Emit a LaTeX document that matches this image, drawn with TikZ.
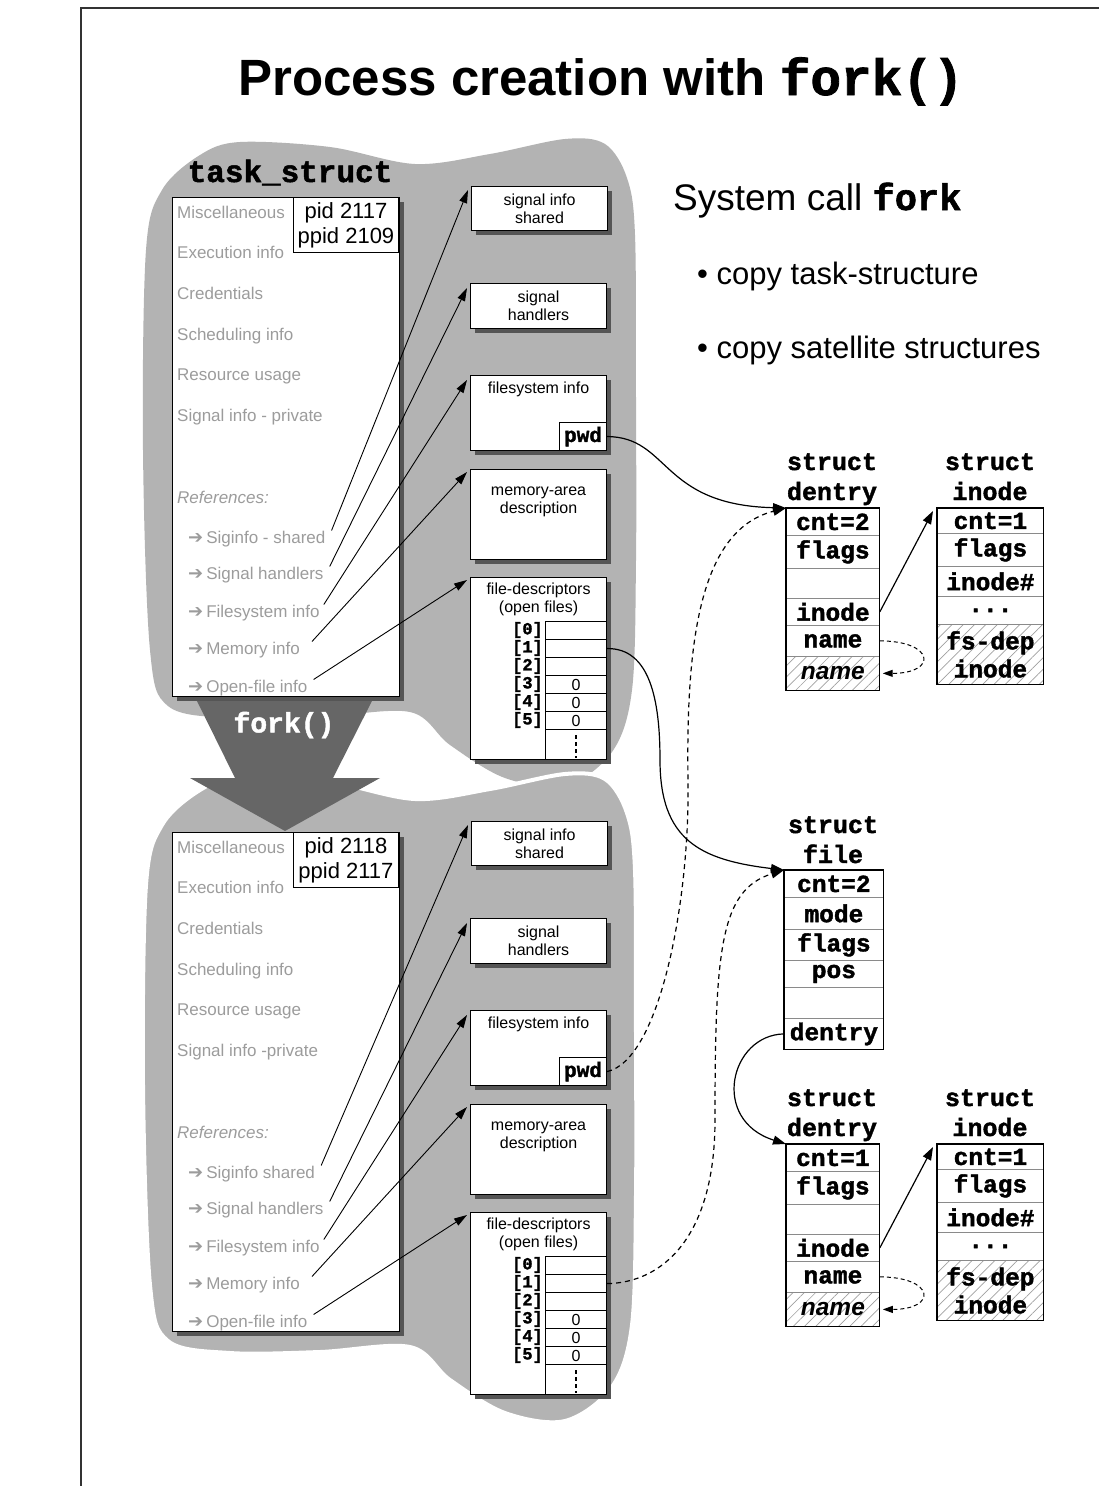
\documentclass[tikz,border=0pt]{standalone}
\usepackage{fontspec}
\setmainfont{Liberation Sans}
\newfontfamily\monof{Liberation Mono}[BoldFeatures={FakeBold=1.6}]
\newfontfamily\symf{DejaVu Sans}
\usetikzlibrary{arrows.meta,shadows,patterns.meta}

\definecolor{blobgray}{HTML}{B3B3B3}
\definecolor{forkgray}{HTML}{666666}
\definecolor{shadowgray}{HTML}{555555}
\definecolor{labelgray}{HTML}{9C9C9C}
\definecolor{rulegray}{HTML}{8A8A8A}
\definecolor{hatchgray}{HTML}{A0A0A0}
\definecolor{framegray}{HTML}{333333}

\tikzset{
  pbox/.style={draw=black, line width=1.1pt, fill=white, inner sep=0pt, anchor=north west,
    drop shadow={shadow xshift=4pt, shadow yshift=-4pt, fill=shadowgray, opacity=1}},
  boxtext/.style={font=\fontsize{16}{18}\selectfont, align=center, inner sep=0pt},
  pidbox/.style={draw=black, line width=1.1pt, fill=white, anchor=north east, minimum width=105,
    minimum height=55, inner sep=0pt, align=center, font=\fontsize{22}{25}\selectfont},
  pwdbox/.style={draw=black, line width=1.1pt, fill=white, anchor=south east, minimum width=47,
    minimum height=28, inner sep=0pt, font=\monof\bfseries\fontsize{21}{24}\selectfont},
  fieldlbl/.style={text=labelgray, font=\fontsize{17}{20}\selectfont, anchor=base west, inner sep=0pt},
  reflink/.style={line width=0.9pt, -{Triangle[length=13pt,width=8pt]}},
  lnk/.style={line width=1.2pt, -{Triangle[length=13pt,width=9pt]}},
  dlnk/.style={lnk, dash pattern=on 5pt off 4pt},
  fdslot/.style={draw=black, line width=1.1pt, minimum width=61, minimum height=18, inner sep=0pt,
    anchor=north west},
  fdidx/.style={font=\monof\bfseries\fontsize{17}{18}\selectfont, anchor=east, inner sep=0pt},
  rowcell/.style={draw=rulegray, line width=0.8pt, inner sep=0pt, anchor=north west,
    font=\monof\bfseries\fontsize{24.5}{28}\selectfont, align=center},
  hatched/.style={pattern={Lines[angle=45,distance=8pt,line width=0.7pt]}, pattern color=hatchgray},
  structhdr/.style={font=\monof\bfseries\fontsize{25}{28}\selectfont, anchor=base, inner sep=0pt},
  boxedge/.style={draw=black, line width=1.3pt},
  namefont/.style={font=\fontsize{24.5}{28}\selectfont\bfseries\itshape},
}

\newcommand\refarrow{{\symf\fontsize{18}{18}\selectfont ➔}\hspace{3pt}}

% outline of the grey background shape behind one process
\newcommand\blobshape[1]{\path[#1] plot[smooth cycle, tension=0.55] coordinates {
  (146,250) (162,190) (200,155) (240,142) (330,147) (415,164) (490,154) (565,139)
  (605,144) (627,178) (635,235) (636,400) (636,560) (632,690) (612,752) (565,786)
  (505,778) (450,745) (410,712) (320,717) (230,718) (168,706) (150,650) (143,450)};}

% one process: task structure plus its satellite structures
% #1 prefix, #2 vertical offset, #3 pid, #4 ppid, #5/#6 label variants
\newcommand\procgroup[6]{%
\begin{scope}[shift={(0,#2)}]
  \node[pbox, line width=1.3pt, minimum width=227, minimum height=499] (#1task) at (172,197) {};
  \node[pidbox] (#1pid) at (399,197) {pid #3\\ppid #4};
  \node[fieldlbl] (#1misc) at (177,218) {Miscellaneous};
  \node[fieldlbl] (#1exec) at (177,258) {Execution info};
  \node[fieldlbl] (#1cred) at (177,299) {Credentials};
  \node[fieldlbl] (#1sched) at (177,340) {Scheduling info};
  \node[fieldlbl] (#1rusage) at (177,380) {Resource usage};
  \node[fieldlbl] (#1sigpriv) at (177,421) {#5};
  \node[fieldlbl, font=\fontsize{17}{20}\selectfont\itshape] (#1refs) at (177,503) {References:};
  \node[fieldlbl] (#1rsig) at (188,543) {\refarrow #6};
  \node[fieldlbl] (#1rhnd) at (188,579) {\refarrow Signal handlers};
  \node[fieldlbl] (#1rfs) at (188,617) {\refarrow Filesystem info};
  \node[fieldlbl] (#1rmem) at (188,654) {\refarrow Memory info};
  \node[fieldlbl] (#1rfd) at (188,692) {\refarrow Open-file info};
  %
  \node[pbox, boxtext, minimum width=136, minimum height=44] (#1sig) at (471,186) {signal info\\shared};
  \node[pbox, boxtext, minimum width=136, minimum height=45] (#1hnd) at (470,283) {signal\\handlers};
  \node[pbox, minimum width=136, minimum height=75] (#1fs) at (470,375) {};
  \node[boxtext] (#1fst) at ([yshift=-14pt]#1fs.north) {filesystem info};
  \node[pwdbox] (#1pwd) at (#1fs.south east) {pwd};
  \node[pbox, minimum width=136, minimum height=90] (#1mem) at (470,469) {};
  \node[boxtext] (#1memt) at ([yshift=-33pt]#1mem.north) {memory-area\\description};
  \node[pbox, minimum width=136, minimum height=182] (#1fd) at (470,577) {};
  \node[boxtext] (#1fdt) at ([yshift=-22pt]#1fd.north) {file-descriptors\\(open files)};
  \foreach \k in {0,...,5} {
    \node[fdslot] (#1fd\k) at (545,621+18*\k) {};
    \node[fdidx] (#1fdi\k) at (543,630+18*\k) {[\k]};
  }
  \foreach \k in {3,4,5} \node[boxtext] (#1zero\k) at (#1fd\k.center) {0};
  \node[fdslot, minimum height=30] (#1fdx) at (545,729) {};
  \draw[line width=1.2pt, dash pattern=on 4pt off 3pt] ([yshift=-6pt]#1fdx.north) -- ([yshift=2pt]#1fdx.south);
  %
  \draw[reflink] ([xshift=6pt]#1rsig.north east) -- ([shift={(-3,4)}]#1sig.north west);
  \draw[reflink] ([xshift=6pt]#1rhnd.north east) -- ([shift={(-3,5)}]#1hnd.north west);
  \draw[reflink] ([xshift=4pt]#1rfs.north east) -- ([shift={(-3,5)}]#1fs.north west);
  \draw[reflink] ([xshift=12pt]#1rmem.north east) -- ([shift={(-3,3)}]#1mem.north west);
  \draw[reflink] ([xshift=6pt]#1rfd.north east) -- ([shift={(-3,3)}]#1fd.north west);
\end{scope}}

% struct dentry with its struct inode
\newcommand\dentinode[3]{%
\begin{scope}[shift={(0,#2)}]
  \node[structhdr] (#1dh1) at (832,470) {struct};
  \node[structhdr] (#1dh2) at (832,500) {dentry};
  \node[rowcell, minimum width=93, minimum height=27] (#1d1) at (786,508) {cnt=#3};
  \node[rowcell, minimum width=93, minimum height=33] (#1d2) at (786,535) {flags};
  \node[rowcell, minimum width=93, minimum height=30] (#1d3) at (786,568) {};
  \node[rowcell, minimum width=93, minimum height=27] (#1d4) at (786,598) {inode};
  \node[rowcell, minimum width=93, minimum height=31] (#1d5) at (786,625) {name};
  \node[rowcell, hatched, namefont, minimum width=93, minimum height=34] (#1d6) at (786,656) {name};
  \draw[boxedge] (#1d1.north west) rectangle (#1d6.south east);
  %
  \node[structhdr] (#1ih1) at (990,470) {struct};
  \node[structhdr] (#1ih2) at (990,500) {inode};
  \node[rowcell, minimum width=106, minimum height=25] (#1i1) at (937,508) {cnt=1};
  \node[rowcell, minimum width=106, minimum height=33] (#1i2) at (937,533) {flags};
  \node[rowcell, minimum width=106, minimum height=30] (#1i3) at (937,566) {inode\#};
  \node[rowcell, minimum width=106, minimum height=28] (#1i4) at (937,596) {...};
  \node[rowcell, hatched, minimum width=106, minimum height=60] (#1i5) at (937,624) {fs-dep\\inode};
  \draw[boxedge] (#1i1.north west) rectangle (#1i5.south east);
  %
  \draw[lnk] (#1d4.east) -- ([shift={(-4,3)}]#1i1.north west);
  \draw[line width=1pt, dash pattern=on 4pt off 3pt, -{Triangle[length=10pt,width=7pt]}]
    (#1d5.east) .. controls +(55,0) and +(55,0) .. ([xshift=3pt]#1d6.east);
\end{scope}}

\begin{document}
\begin{tikzpicture}[x=1pt,y=-1pt]
\useasboundingbox (0,0) rectangle (1099,1486);
\fill[white] (0,0) rectangle (1099,1486);
\draw[line width=1.3pt, framegray] (1099,8) -- (81,8) -- (81,1486);

\node[anchor=base, inner sep=0pt, font=\fontsize{51}{60}\selectfont\bfseries] (title) at (601,95)
  {Process creation with {\monof fork()}};

% grey backgrounds of parent and child
\blobshape{fill=blobgray}
\begin{scope}[shift={(0,635)}]
  \blobshape{fill=blobgray, draw=white, line width=4pt}
\end{scope}

% the fork() arrow
\fill[forkgray] (195,697) -- (374,697) -- (333,778) -- (380,778) -- (285,831)
  -- (190,778) -- (235,778) -- cycle;
\node[text=white, inner sep=0pt, font=\monof\bfseries\fontsize{28}{30}\selectfont] (forklbl) at (284,725) {fork()};

\procgroup{A}{0}{2117}{2109}{Signal info - private}{Siginfo - shared}
\node[anchor=base, inner sep=0pt, font=\monof\bfseries\fontsize{31}{34}\selectfont] (taskhdr) at (290,182) {task\_struct};
\procgroup{B}{635}{2118}{2117}{Signal info -private}{Siginfo shared}

% explanatory text
\node[anchor=base west, inner sep=0pt, font=\fontsize{37}{42}\selectfont] (syscall) at (673,210)
  {System call {\monof\bfseries fork}};
\node[anchor=base west, inner sep=0pt, font=\fontsize{31}{36}\selectfont] (bullet1) at (697,284)
  {• copy task-structure};
\node[anchor=base west, inner sep=0pt, font=\fontsize{31}{36}\selectfont] (bullet2) at (697,358)
  {• copy satellite structures};

% shared dentry/inode pairs
\dentinode{A}{0}{2}
\dentinode{B}{636}{1}

% struct file
\node[structhdr] (fh1) at (833,833) {struct};
\node[structhdr] (fh2) at (833,863) {file};
\node[rowcell, minimum width=99, minimum height=27] (f1) at (784,870) {cnt=2};
\node[rowcell, minimum width=99, minimum height=32] (f2) at (784,897) {mode};
\node[rowcell, minimum width=99, minimum height=31] (f3) at (784,929) {flags};
\node[rowcell, minimum width=99, minimum height=27] (f4) at (784,960) {pos};
\node[rowcell, minimum width=99, minimum height=31] (f5) at (784,987) {};
\node[rowcell, minimum width=99, minimum height=31] (f6) at (784,1018) {dentry};
\draw[boxedge] (f1.north west) rectangle (f6.south east);

% pointers between the structures
\coordinate (viaA) at (660,760);
\coordinate (viaB) at (688,780);
\coordinate (viaC) at (715,1120);
\draw[lnk] (Apwd.east) .. controls (670,437) and (660,505) .. (Ad1.north west);
\draw[dlnk] (Bpwd.east) .. controls (660,1060) and (690,900) .. (viaB)
  .. controls (686,640) and (700,530) .. (Ad1.north west);
\draw[lnk] (Afd1.east) .. controls (650,648) and (660,700) .. (viaA)
  .. controls (660,840) and (700,860) .. (f1.north west);
\draw[dlnk] (Bfd1.east) .. controls (660,1283) and (715,1240) .. (viaC)
  .. controls (715,950) and (720,890) .. (f1.north west);
\draw[lnk] (f6.west) .. controls (730,1035) and (710,1120) .. (Bd1.north west);
\end{tikzpicture}
\end{document}
